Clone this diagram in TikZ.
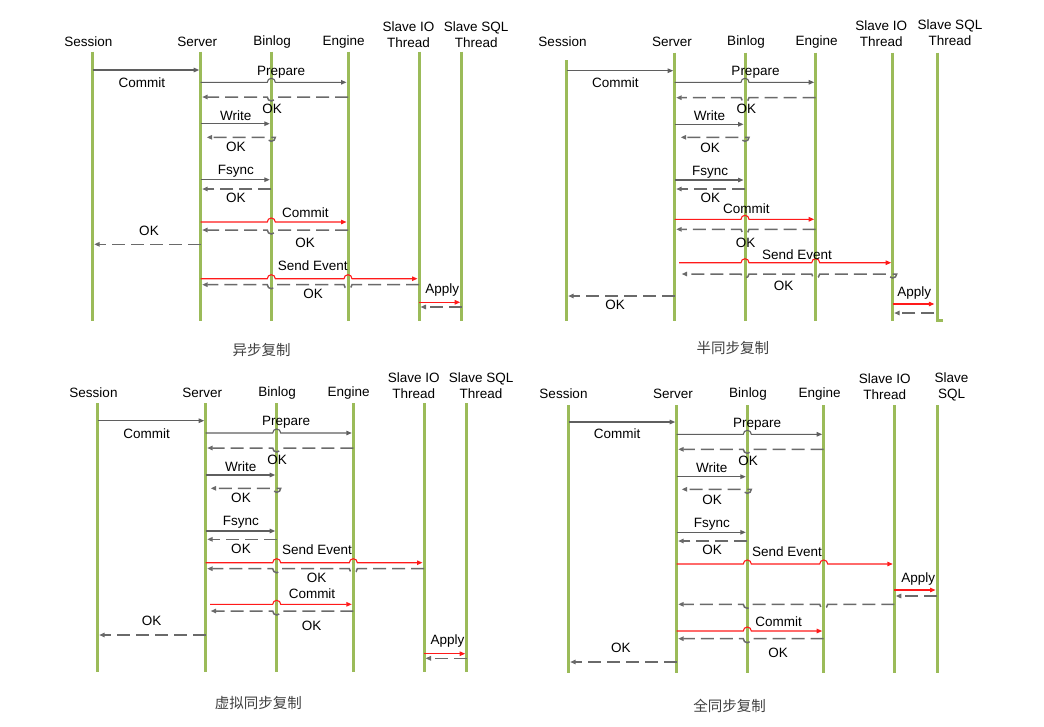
\documentclass[tikz,border=0pt]{standalone}
\usepackage{fontspec}
\setmainfont{Liberation Sans}
\newfontfamily\cjk{Noto Sans CJK SC}
\usetikzlibrary{arrows.meta,calc}
\definecolor{lifegreen}{HTML}{9BBB59}
\definecolor{msggray}{HTML}{5F5F5F}
\definecolor{dashgray}{HTML}{6A6A6A}
\definecolor{msgred}{HTML}{FF1A1A}
\newcommand\hoprad{4}
\newcommand\callhop[5][]{%
  \draw[call,#1] (#2 |- 0,#4)
    \foreach \hp in {#5} {-- ($(\hp |- 0,#4)+(-\hoprad,0)$) arc[start angle=180,end angle=0,radius=\hoprad]}
    -- (#3 |- 0,#4);}
\newcommand\backhop[5][]{%
  \draw[back,#1] (#2 |- 0,#4)
    \foreach \hp in {#5} {-- ($(\hp |- 0,#4)+(\hoprad,0)$) arc[start angle=0,end angle=-180,radius=\hoprad]}
    -- (#3 |- 0,#4);}
\begin{document}
\begin{tikzpicture}[x=1pt,y=1pt,
  life/.style={draw=lifegreen, line width=3pt},
  call/.style={draw=msggray, line width=1.1pt, shorten >=1.5pt, -{Triangle[length=5.5pt,width=4.5pt]}},
  hot/.style={draw=msgred},
  back/.style={draw=dashgray, line width=1.5pt, dash pattern=on 13pt off 6pt, shorten >=1.5pt, -{Triangle[length=5.5pt,width=4.5pt]}},
  hdr/.style={font=\fontsize{13.5}{16}\selectfont, align=center, inner sep=0pt},
  lbl/.style={font=\fontsize{13.5}{16}\selectfont, inner sep=0pt},
  capt/.style={font=\cjk\fontsize{14.5}{17}\selectfont, text=black!75, inner sep=0pt}
]
\useasboundingbox (0,0) rectangle (1044,-726);

\foreach \n/\x in {ses/92.7,srv/200.7,bin/271.3,eng/348,sio/419,ssq/461.7}
  \draw[life] (\x,-51.7) coordinate (A-\n) -- (\x,-321);
\node[hdr] (A-ses-t) at (88.3,-41.7) {Session};
\node[hdr] (A-srv-t) at (197.3,-41.7) {Server};
\node[hdr] (A-bin-t) at (272.2,-42) {Binlog};
\node[hdr] (A-eng-t) at (343.7,-42) {Engine};
\node[hdr] (A-sio-t) at (408.5,-34.7) {Slave IO\\Thread};
\node[hdr] (A-ssq-t) at (476.2,-34.7) {Slave SQL\\Thread};

\draw[call] (A-ses |- 0,-70) -- (A-srv |- 0,-70);
\callhop{A-srv}{A-eng}{-82.3}{A-bin}
\backhop{A-eng}{A-srv}{-97}{A-bin}
\draw[call] (A-srv |- 0,-123.7) -- (A-bin |- 0,-123.7);
\backhop[shorten >=6pt]{A-bin}{A-srv}{-137.3}{A-bin}
\draw[call] (A-srv |- 0,-179.7) -- (A-bin |- 0,-179.7);
\draw[back] (A-bin |- 0,-189) -- (A-srv |- 0,-189);
\callhop[hot]{A-srv}{A-eng}{-222}{A-bin}
\backhop{A-eng}{A-srv}{-230}{A-bin}
\draw[back] (A-srv |- 0,-244.3) -- (A-ses |- 0,-244.3);
\callhop[hot]{A-srv}{A-sio}{-278.7}{A-bin,A-eng}
\backhop{A-sio}{A-srv}{-284.7}{A-eng,A-bin}
\draw[call,hot] (A-sio |- 0,-302.3) -- (A-ssq |- 0,-302.3);
\draw[back] (A-ssq |- 0,-307) -- (A-sio |- 0,-307);

\node[lbl] (A-commit) at (141.8,-82.3) {Commit};
\node[lbl] (A-prep) at (281.2,-72) {Prepare};
\node[lbl] (A-ok1) at (272,-109.3) {OK};
\node[lbl] (A-write) at (235.7,-115.7) {Write};
\node[lbl] (A-ok2) at (235.8,-147) {OK};
\node[lbl] (A-fsync) at (235.8,-171.7) {Fsync};
\node[lbl] (A-ok3) at (235.8,-198.3) {OK};
\node[lbl] (A-ecommit) at (305.3,-212.3) {Commit};
\node[lbl] (A-ok4) at (305,-242.7) {OK};
\node[lbl] (A-ok5) at (149,-231.3) {OK};
\node[lbl] (A-send) at (312.8,-265.3) {Send Event};
\node[lbl] (A-ok6) at (313,-294) {OK};
\node[lbl] (A-apply) at (442.3,-290) {Apply};
\node[capt] (A-cap) at (261.7,-350) {异步复制};

\foreach \n/\x/\yt in {ses/566.7/60,srv/674.7/52.7,bin/745/52.7,eng/815.7/52.7,sio/892.7/52.7}
  \draw[life] (\x,-\yt) coordinate (B-\n) -- (\x,-321);
\draw[life] (937.3,-52.7) coordinate (B-ssq) -- (937.3,-320) -- (943,-320);
\node[hdr] (B-ses-t) at (562.5,-42) {Session};
\node[hdr] (B-srv-t) at (672,-42) {Server};
\node[hdr] (B-bin-t) at (746,-42) {Binlog};
\node[hdr] (B-eng-t) at (816.7,-42) {Engine};
\node[hdr] (B-sio-t) at (881.2,-34) {Slave IO\\Thread};
\node[hdr] (B-ssq-t) at (950,-32.5) {Slave SQL\\Thread};

\draw[call] (B-ses |- 0,-70.7) -- (B-srv |- 0,-70.7);
\callhop{B-srv}{B-eng}{-82.3}{B-bin}
\backhop{B-eng}{B-srv}{-97.7}{B-bin}
\draw[call] (B-srv |- 0,-124.3) -- (B-bin |- 0,-124.3);
\backhop[shorten >=6pt]{B-bin}{B-srv}{-137.3}{B-bin}
\draw[call] (B-srv |- 0,-180) -- (B-bin |- 0,-180);
\draw[back] (B-bin |- 0,-189) -- (B-srv |- 0,-189);
\callhop[hot]{B-srv}{B-eng}{-219.3}{B-bin}
\backhop{B-eng}{B-srv}{-229.3}{B-bin}
\callhop[hot,shorten <=4.5pt]{B-srv}{B-sio}{-262.7}{B-bin,B-eng}
\backhop[shorten >=7pt]{B-sio}{B-srv}{-274}{B-sio,B-eng,B-bin}
\draw[back] (B-srv |- 0,-296) -- (B-ses |- 0,-296);
\draw[call,hot,shorten >=3pt] (B-sio |- 0,-304) -- (B-ssq |- 0,-304);
\draw[back,shorten <=3pt] (B-ssq |- 0,-313) -- (B-sio |- 0,-313);

\node[lbl] (B-commit) at (615.3,-82.3) {Commit};
\node[lbl] (B-prep) at (755.5,-72.7) {Prepare};
\node[lbl] (B-ok1) at (746.3,-109.3) {OK};
\node[lbl] (B-write) at (709.5,-115.7) {Write};
\node[lbl] (B-ok2) at (710,-147.7) {OK};
\node[lbl] (B-fsync) at (710,-172.3) {Fsync};
\node[lbl] (B-ok3) at (710.3,-198.3) {OK};
\node[lbl] (B-ecommit) at (746.3,-209) {Commit};
\node[lbl] (B-ok4) at (745.7,-242.7) {OK};
\node[lbl] (B-send) at (797,-255) {Send Event};
\node[lbl] (B-ok5) at (783.5,-286) {OK};
\node[lbl] (B-ok6) at (615,-305.3) {OK};
\node[lbl] (B-apply) at (914.3,-292.7) {Apply};
\node[capt] (B-cap) at (732.8,-347.7) {半同步复制};

\foreach \n/\x in {ses/97.7,srv/205.7,bin/276.7,eng/353.3,sio/424,ssq/466.7}
  \draw[life] (\x,-403.3) coordinate (C-\n) -- (\x,-672.3);
\node[hdr] (C-ses-t) at (93.5,-392.7) {Session};
\node[hdr] (C-srv-t) at (202.3,-392.7) {Server};
\node[hdr] (C-bin-t) at (277.2,-393) {Binlog};
\node[hdr] (C-eng-t) at (348.7,-393) {Engine};
\node[hdr] (C-sio-t) at (413.8,-385.3) {Slave IO\\Thread};
\node[hdr] (C-ssq-t) at (481.1,-385.3) {Slave SQL\\Thread};

\draw[call] (C-ses |- 0,-420.7) -- (C-srv |- 0,-420.7);
\callhop{C-srv}{C-eng}{-433}{C-bin}
\backhop{C-eng}{C-srv}{-448}{C-bin}
\draw[call] (C-srv |- 0,-475) -- (C-bin |- 0,-475);
\backhop[shorten >=5pt]{C-bin}{C-srv}{-488.3}{C-bin}
\draw[call] (C-srv |- 0,-531) -- (C-bin |- 0,-531);
\draw[back] (C-bin |- 0,-539.3) -- (C-srv |- 0,-539.3);
\callhop[hot]{C-srv}{C-sio}{-562.7}{C-bin,C-eng}
\backhop{C-sio}{C-srv}{-568.7}{C-eng,C-bin}
\callhop[hot,shorten <=4.5pt]{C-srv}{C-eng}{-604.3}{C-bin}
\backhop[shorten >=5pt]{C-eng}{C-srv}{-611}{C-bin}
\draw[back] (C-srv |- 0,-635) -- (C-ses |- 0,-635);
\draw[call,hot] (C-sio |- 0,-653.7) -- (C-ssq |- 0,-653.7);
\draw[back] (C-ssq |- 0,-658.3) -- (C-sio |- 0,-658.3);

\node[lbl] (C-commit) at (146.7,-433.3) {Commit};
\node[lbl] (C-prep) at (286.2,-422.7) {Prepare};
\node[lbl] (C-ok1) at (277,-460) {OK};
\node[lbl] (C-write) at (240.8,-466.7) {Write};
\node[lbl] (C-ok2) at (241,-497.7) {OK};
\node[lbl] (C-fsync) at (240.8,-522.7) {Fsync};
\node[lbl] (C-ok3) at (241,-549.3) {OK};
\node[lbl] (C-send) at (317,-549.3) {Send Event};
\node[lbl] (C-ok4) at (316.5,-578.3) {OK};
\node[lbl] (C-ecommit) at (312,-594) {Commit};
\node[lbl] (C-ok5) at (311.5,-626) {OK};
\node[lbl] (C-ok6) at (151.7,-621) {OK};
\node[lbl] (C-apply) at (447.5,-641) {Apply};
\node[capt] (C-cap) at (258.3,-703.3) {虚拟同步复制};

\foreach \n/\x in {ses/568.7,srv/676.7,bin/747.3,eng/823.7,sio/894.3,ssq/937}
  \draw[life] (\x,-405) coordinate (D-\n) -- (\x,-673.3);
\node[hdr] (D-ses-t) at (563.5,-393.7) {Session};
\node[hdr] (D-srv-t) at (673,-393.7) {Server};
\node[hdr] (D-bin-t) at (748,-394) {Binlog};
\node[hdr] (D-eng-t) at (819.7,-394) {Engine};
\node[hdr] (D-sio-t) at (884.7,-386.8) {Slave IO\\Thread};
\node[hdr] (D-ssq-t) at (951.5,-386.8) {Slave\\SQL};

\draw[call] (D-ses |- 0,-422) -- (D-srv |- 0,-422);
\callhop{D-srv}{D-eng}{-434.3}{D-bin}
\backhop{D-eng}{D-srv}{-449.3}{D-bin}
\draw[call] (D-srv |- 0,-476.7) -- (D-bin |- 0,-476.7);
\backhop[shorten >=5pt]{D-bin}{D-srv}{-489.3}{D-bin}
\draw[call] (D-srv |- 0,-532.3) -- (D-bin |- 0,-532.3);
\draw[back] (D-bin |- 0,-541) -- (D-srv |- 0,-541);
\callhop[hot]{D-srv}{D-sio}{-564}{D-bin,D-eng}
\draw[call,hot] (D-sio |- 0,-590) -- (D-ssq |- 0,-590);
\draw[back] (D-ssq |- 0,-596) -- (D-sio |- 0,-596);
\backhop{D-sio}{D-srv}{-604.3}{D-eng,D-bin}
\callhop[hot]{D-srv}{D-eng}{-631}{D-bin}
\backhop{D-eng}{D-srv}{-638.7}{D-bin}
\draw[back] (D-srv |- 0,-662) -- (D-ses |- 0,-662);

\node[lbl] (D-commit) at (617.2,-434) {Commit};
\node[lbl] (D-prep) at (757.2,-424) {Prepare};
\node[lbl] (D-ok1) at (748,-460.7) {OK};
\node[lbl] (D-write) at (711.7,-467.7) {Write};
\node[lbl] (D-ok2) at (712.2,-500) {OK};
\node[lbl] (D-fsync) at (711.8,-524) {Fsync};
\node[lbl] (D-ok3) at (712.2,-550) {OK};
\node[lbl] (D-send) at (787,-551.7) {Send Event};
\node[lbl] (D-apply) at (918.3,-579) {Apply};
\node[lbl] (D-ecommit) at (778.7,-621.7) {Commit};
\node[lbl] (D-ok4) at (778,-653.3) {OK};
\node[lbl] (D-ok5) at (620.8,-648.3) {OK};
\node[capt] (D-cap) at (729.5,-705.7) {全同步复制};
\end{tikzpicture}
\end{document}
